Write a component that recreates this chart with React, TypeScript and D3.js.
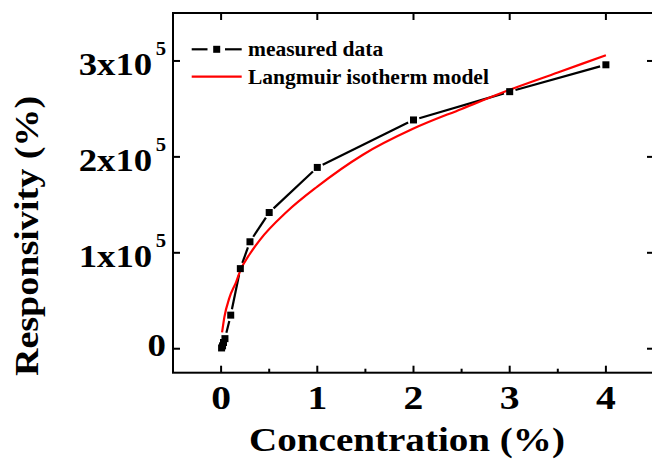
import React, { useEffect, useRef } from "react";
import * as d3 from "d3";

// measured points
const concentration = [0.005, 0.015, 0.025, 0.04, 0.1, 0.2, 0.3, 0.5, 1, 2, 3, 4];
const responsivity = [800, 3000, 6500, 10500, 35000, 83500, 111500, 142000, 189000, 238500, 268000, 296000];

// Langmuir fit curve
const fitConcentration = [0.01, 0.034, 0.086, 0.156, 0.2, 0.3, 0.4, 0.68, 1.0, 1.47, 2.0, 2.5, 3.0, 3.5, 4.0];
const fitResponsivity = [17000, 33000, 53000, 69500, 81500, 99000, 113000, 142500, 169000, 202000, 229500, 250000, 270000, 288000, 306000];

const xTicks = [0, 1, 2, 3, 4];
const xMinorTicks = [-0.5, 0.5, 1.5, 2.5, 3.5, 4.5];
const yTicks = [0, 100000, 200000, 300000];
const yTickLabels = ["0", "1x10", "2x10", "3x10"];
const yTickExponents = ["", "5", "5", "5"];

const legendLabels = ["measured data", "Langmuir isotherm model"];

const FONT = "'Liberation Serif', 'Times New Roman', serif";

const App = () => {
  const ref = useRef<SVGSVGElement>(null);

  useEffect(() => {
    const svg = d3.select(ref.current);
    svg.selectAll("*").remove();

    const left = 173, right = 654, top = 13, bottom = 372.7;
    const x = d3.scaleLinear().domain([-0.5, 4.5]).range([left, right]);
    const y = d3.scaleLinear().domain([-25000, 350000]).range([bottom, top]);

    const g = svg.append("g");

    // fit curve
    const fit = fitConcentration.map((c, i) => [c, fitResponsivity[i]] as [number, number]);
    const line = d3.line<[number, number]>()
      .x((d) => x(d[0]))
      .y((d) => y(d[1]))
      .curve(d3.curveMonotoneX);

    // measured line, broken around each symbol
    const pts = concentration.map((c, i) => [x(c), y(responsivity[i])]);
    const gap = 6;
    for (let i = 0; i < pts.length - 1; i++) {
      const [x0, y0] = pts[i];
      const [x1, y1] = pts[i + 1];
      const len = Math.hypot(x1 - x0, y1 - y0);
      if (len <= gap * 2) continue;
      const ux = (x1 - x0) / len, uy = (y1 - y0) / len;
      g.append("line")
        .attr("x1", x0 + ux * gap).attr("y1", y0 + uy * gap)
        .attr("x2", x1 - ux * gap).attr("y2", y1 - uy * gap)
        .attr("stroke", "#000").attr("stroke-width", 2.2);
    }

    g.append("path")
      .datum(fit)
      .attr("d", line)
      .attr("fill", "none")
      .attr("stroke", "#ff0000")
      .attr("stroke-width", 2.2);

    g.selectAll(".pt")
      .data(pts)
      .enter().append("rect")
      .attr("x", (d) => d[0] - 3.5)
      .attr("y", (d) => d[1] - 3.5)
      .attr("width", 7)
      .attr("height", 7)
      .attr("fill", "#000");

    // frame
    g.append("rect")
      .attr("x", left).attr("y", top)
      .attr("width", right - left).attr("height", bottom - top)
      .attr("fill", "none").attr("stroke", "#000").attr("stroke-width", 2);

    // ticks
    xTicks.forEach((t) => {
      g.append("line").attr("x1", x(t)).attr("x2", x(t)).attr("y1", bottom).attr("y2", bottom - 7)
        .attr("stroke", "#000").attr("stroke-width", 2);
      g.append("line").attr("x1", x(t)).attr("x2", x(t)).attr("y1", top).attr("y2", top + 7)
        .attr("stroke", "#000").attr("stroke-width", 2);
      g.append("text")
        .attr("transform", `translate(${x(t)},409) scale(1.2,1)`)
        .attr("text-anchor", "middle")
        .attr("font-family", FONT).attr("font-weight", "bold").attr("font-size", 33)
        .text(t);
    });
    xMinorTicks.forEach((t) => {
      g.append("line").attr("x1", x(t)).attr("x2", x(t)).attr("y1", bottom).attr("y2", bottom - 4)
        .attr("stroke", "#000").attr("stroke-width", 2);
    });

    yTicks.forEach((t, i) => {
      g.append("line").attr("x1", left).attr("x2", left + 7).attr("y1", y(t)).attr("y2", y(t))
        .attr("stroke", "#000").attr("stroke-width", 2);
      g.append("line").attr("x1", right).attr("x2", right - 7).attr("y1", y(t)).attr("y2", y(t))
        .attr("stroke", "#000").attr("stroke-width", 2);
      const txt = g.append("text")
        .attr("transform", `translate(166,${y(t) + (i === 0 ? 7 : 14.5)}) scale(1.15,1)`)
        .attr("text-anchor", "end")
        .attr("font-family", FONT).attr("font-weight", "bold").attr("font-size", 32);
      txt.append("tspan").text(yTickLabels[i]);
      if (yTickExponents[i]) {
        txt.append("tspan").attr("dx", 3).attr("dy", -20).attr("font-size", 18).text(yTickExponents[i]);
      }
    });

    // axis titles
    g.append("text")
      .attr("transform", `translate(407,451) scale(1.15,1)`)
      .attr("text-anchor", "middle")
      .attr("font-family", FONT).attr("font-weight", "bold").attr("font-size", 34)
      .text("Concentration (%)");
    g.append("text")
      .attr("transform", `translate(38,236) rotate(-90) scale(1.12,1)`)
      .attr("text-anchor", "middle")
      .attr("font-family", FONT).attr("font-weight", "bold").attr("font-size", 34)
      .text("Responsivity (%)");

    // legend
    const lx0 = 191.7, lx1 = 241.7;
    g.append("line").attr("x1", lx0).attr("x2", 207.5).attr("y1", 49.3).attr("y2", 49.3)
      .attr("stroke", "#000").attr("stroke-width", 2.2);
    g.append("line").attr("x1", 225).attr("x2", lx1).attr("y1", 49.3).attr("y2", 49.3)
      .attr("stroke", "#000").attr("stroke-width", 2.2);
    g.append("rect").attr("x", 213.2).attr("y", 45.8).attr("width", 7).attr("height", 7).attr("fill", "#000");
    g.append("line").attr("x1", lx0).attr("x2", lx1).attr("y1", 76.7).attr("y2", 76.7)
      .attr("stroke", "#ff0000").attr("stroke-width", 2.2);
    legendLabels.forEach((l, i) => {
      g.append("text")
        .attr("x", 248).attr("y", i === 0 ? 56 : 84)
        .attr("font-family", FONT).attr("font-weight", "bold").attr("font-size", 21.5)
        .text(l);
    });
  }, []);

  return (
    <svg
      ref={ref}
      width={652}
      height={459}
      style={{ position: "absolute", left: 0, top: 0, background: "#fff" }}
    ></svg>
  );
};

export default App;
